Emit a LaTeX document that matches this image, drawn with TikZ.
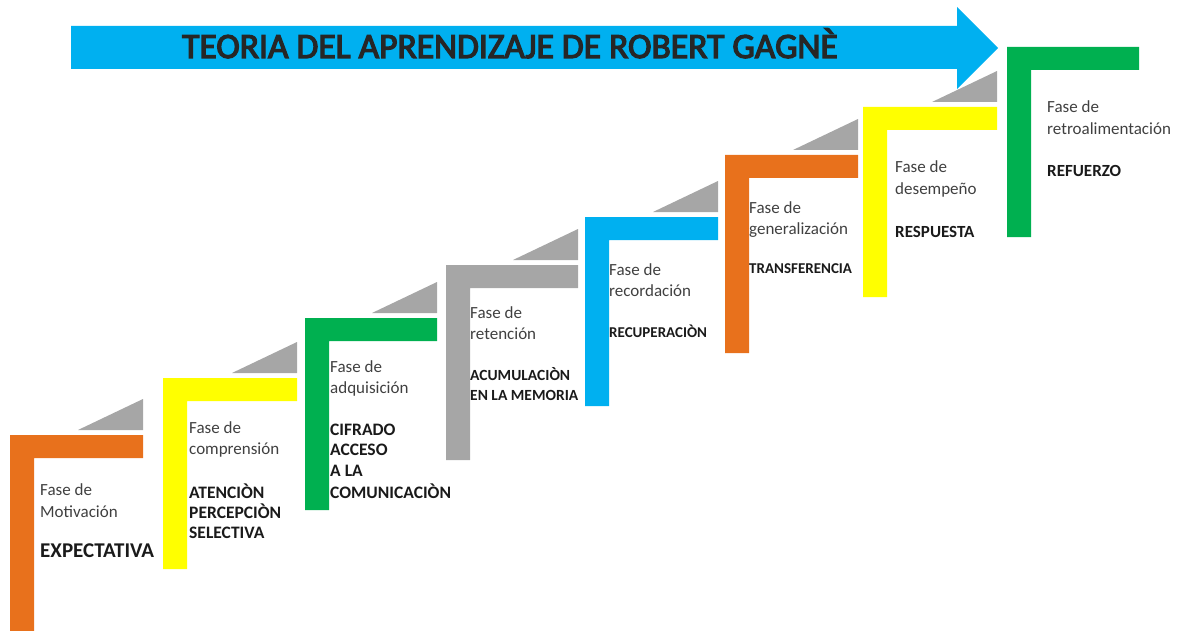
\documentclass[tikz,border=0pt]{standalone}
\usepackage{fontspec}
\setmainfont{Carlito}
\newfontfamily\titlefont[FakeBold=3.5]{Carlito}
\definecolor{cOrange}{RGB}{232,113,28}
\definecolor{cYellow}{RGB}{255,255,0}
\definecolor{cGreen}{RGB}{0,176,80}
\definecolor{cGray}{RGB}{166,166,166}
\definecolor{cBlue}{RGB}{0,176,240}
\definecolor{cText}{RGB}{64,64,64}
\definecolor{cBold}{RGB}{26,26,26}
\tikzset{
  fase/.style={anchor=base west, inner sep=0pt, text=cText, font=\fontsize{17}{20}\selectfont},
  keyA/.style={anchor=base west, inner sep=0pt, text=cBold, font=\bfseries\fontsize{#1}{#1}\selectfont},
  stair/.style={fill=#1},
  ramp/.style={fill=cGray},
  titletxt/.style={anchor=base west, inner sep=0pt, text=black!85, font=\titlefont\fontsize{35.5}{36}\selectfont}
}
\begin{document}
\begin{tikzpicture}[x=1pt,y=-1pt]
\useasboundingbox (0,0) rectangle (1180,631);
\clip (0,0) rectangle (1180,631);
% title arrow
\fill[cBlue] (71,26) -- (957,26) -- (957,7) -- (998,48) -- (957,89) -- (957,69) -- (71,69) -- cycle;
\node[titletxt] (title) at (182,58) {TEORIA DEL APRENDIZAJE DE ROBERT GAGNÈ};
% stairs: xl/top/xr/bottom/colour
\foreach \xl/\top/\xr/\bot/\col [count=\i] in {
  10/435/143/640/cOrange,
  163/378/297/569/cYellow,
  305/318/437/510/cGreen,
  446/265/578/460/cGray,
  585/217/718/406/cBlue,
  725/155/858/353/cOrange,
  863/107/997/297/cYellow,
  1007/47/1139/237/cGreen}{
  \fill[stair=\col] (\xl,\top) -- (\xr,\top) -- (\xr,\top+23) -- (\xl+24,\top+23) -- (\xl+24,\bot) -- (\xl,\bot) -- cycle;
}
\foreach \top/\xr in {435/143,378/297,318/437,265/578,217/718,155/858,107/997}{
  \fill[ramp] (\xr-65,\top-5) -- (\xr,\top-5) -- (\xr,\top-36) -- cycle;
}
% step 1
\node[fase] (f1a) at (40,495) {Fase de};
\node[fase] (f1b) at (40,517) {Motivación};
\node[keyA=21] (k1a) at (40,557) {EXPECTATIVA};
% step 2
\node[fase] (f2a) at (189,433) {Fase de};
\node[fase] (f2b) at (189,454) {comprensión};
\node[keyA=17.5] (k2a) at (189,498) {ATENCIÒN};
\node[keyA=17.5] (k2b) at (189,518) {PERCEPCIÒN};
\node[keyA=17.5] (k2c) at (189,538) {SELECTIVA};
% step 3
\node[fase] (f3a) at (330,372) {Fase de};
\node[fase] (f3b) at (330,393) {adquisición};
\node[keyA=17.5] (k3a) at (330,435) {CIFRADO};
\node[keyA=17.5] (k3b) at (330,455) {ACCESO};
\node[keyA=17.5] (k3c) at (330,476) {A LA};
\node[keyA=17.5] (k3d) at (330,498) {COMUNICACIÒN};
% step 4
\node[fase] (f4a) at (470,318) {Fase de};
\node[fase] (f4b) at (470,339) {retención};
\node[keyA=15.5] (k4a) at (470,380) {ACUMULACIÒN};
\node[keyA=15.5] (k4b) at (470,400) {EN LA MEMORIA};
% step 5
\node[fase] (f5a) at (609,275) {Fase de};
\node[fase] (f5b) at (609,296) {recordación};
\node[keyA=15] (k5a) at (609,337) {RECUPERACIÒN};
% step 6
\node[fase] (f6a) at (749,213) {Fase de};
\node[fase] (f6b) at (749,234) {generalización};
\node[keyA=15] (k6a) at (749,273) {TRANSFERENCIA};
% step 7
\node[fase] (f7a) at (895,173) {Fase de};
\node[fase] (f7b) at (895,195) {desempeño};
\node[keyA=17] (k7a) at (895,237) {RESPUESTA};
% step 8
\node[fase] (f8a) at (1047,113) {Fase de};
\node[fase] (f8b) at (1047,135) {retroalimentación};
\node[keyA=17] (k8a) at (1047,177) {REFUERZO};
\end{tikzpicture}
\end{document}
